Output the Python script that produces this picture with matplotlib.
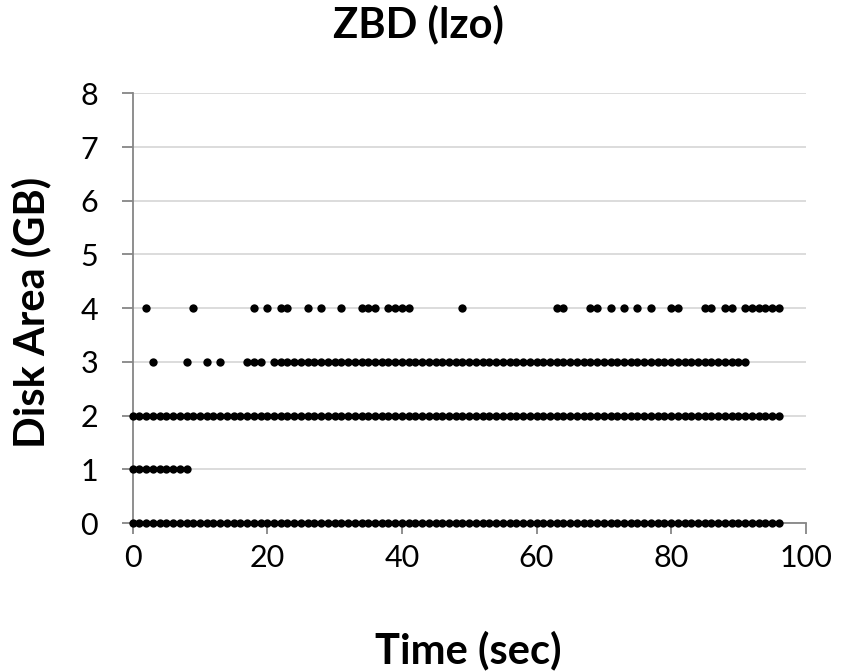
import matplotlib
matplotlib.use("Agg")
import matplotlib.pyplot as plt

# sample times (sec) at which each disk area level was observed
t_area0 = [0, 1, 2, 3, 4, 5, 6, 7, 8, 9, 10, 11, 12, 13, 14, 15, 16, 17, 18, 19,
           20, 21, 22, 23, 24, 25, 26, 27, 28, 29, 30, 31, 32, 33, 34, 35, 36, 37, 38, 39,
           40, 41, 42, 43, 44, 45, 46, 47, 48, 49, 50, 51, 52, 53, 54, 55, 56, 57, 58, 59,
           60, 61, 62, 63, 64, 65, 66, 67, 68, 69, 70, 71, 72, 73, 74, 75, 76, 77, 78, 79,
           80, 81, 82, 83, 84, 85, 86, 87, 88, 89, 90, 91, 92, 93, 94, 95, 96]
t_area1 = [0, 1, 2, 3, 4, 5, 6, 7, 8]
t_area2 = [0, 1, 2, 3, 4, 5, 6, 7, 8, 9, 10, 11, 12, 13, 14, 15, 16, 17, 18, 19,
           20, 21, 22, 23, 24, 25, 26, 27, 28, 29, 30, 31, 32, 33, 34, 35, 36, 37, 38, 39,
           40, 41, 42, 43, 44, 45, 46, 47, 48, 49, 50, 51, 52, 53, 54, 55, 56, 57, 58, 59,
           60, 61, 62, 63, 64, 65, 66, 67, 68, 69, 70, 71, 72, 73, 74, 75, 76, 77, 78, 79,
           80, 81, 82, 83, 84, 85, 86, 87, 88, 89, 90, 91, 92, 93, 94, 95, 96]
t_area3 = [3, 8, 11, 13, 17, 18, 19,
           21, 22, 23, 24, 25, 26, 27, 28, 29, 30, 31, 32, 33, 34, 35, 36, 37, 38, 39,
           40, 41, 42, 43, 44, 45, 46, 47, 48, 49, 50, 51, 52, 53, 54, 55, 56, 57, 58, 59,
           60, 61, 62, 63, 64, 65, 66, 67, 68, 69, 70, 71, 72, 73, 74, 75, 76, 77, 78, 79,
           80, 81, 82, 83, 84, 85, 86, 87, 88, 89, 90, 91]
t_area4 = [2, 9, 18, 20, 22, 23, 26, 28, 31, 34, 35, 36, 38, 39, 40, 41, 49,
           63, 64, 68, 69, 71, 73, 75, 77, 80, 81, 85, 86, 88, 89,
           91, 92, 93, 94, 95, 96]

levels = {0: t_area0, 1: t_area1, 2: t_area2, 3: t_area3, 4: t_area4}

x_ticks = [0, 20, 40, 60, 80, 100]
y_ticks = [0, 1, 2, 3, 4, 5, 6, 7, 8]

plt.rcParams['font.family'] = ['Lato', 'DejaVu Sans']

fig = plt.figure(figsize=(8.49, 6.72), dpi=100)
ax = fig.add_axes([0.1563, 0.2217, 0.7927, 0.6394])

for gb, times in levels.items():
    ax.plot(times, [gb] * len(times), 'o', color='black', markersize=6,
            markeredgewidth=0, clip_on=False, zorder=3)

ax.set_xlim(0, 100)
ax.set_ylim(0, 8)
ax.set_xticks(x_ticks)
ax.set_yticks(y_ticks)

ax.yaxis.grid(True, color='#d9d9d9', linewidth=1.3)
ax.set_axisbelow(True)
for side in ['top', 'right']:
    ax.spines[side].set_visible(False)
for side in ['left', 'bottom']:
    ax.spines[side].set_color('#868686')
    ax.spines[side].set_linewidth(1.3)

ax.tick_params(axis='x', direction='out', length=8, width=1.3, color='#868686',
               labelsize=22, pad=7)
ax.tick_params(axis='y', direction='out', length=8, width=1.3, color='#868686',
               labelsize=22, pad=17)

fig.text(418 / 849, 1 - 24 / 672, 'ZBD (lzo)', ha='center', va='center',
         fontsize=30, fontweight='bold')
fig.text(468 / 849, 1 - 650 / 672, 'Time (sec)', ha='center', va='center',
         fontsize=30, fontweight='bold')
fig.text(31 / 849, 1 - 312 / 672, 'Disk Area (GB)', ha='center', va='center',
         rotation=90, fontsize=30, fontweight='bold')

fig.savefig('out.png', dpi=100)
